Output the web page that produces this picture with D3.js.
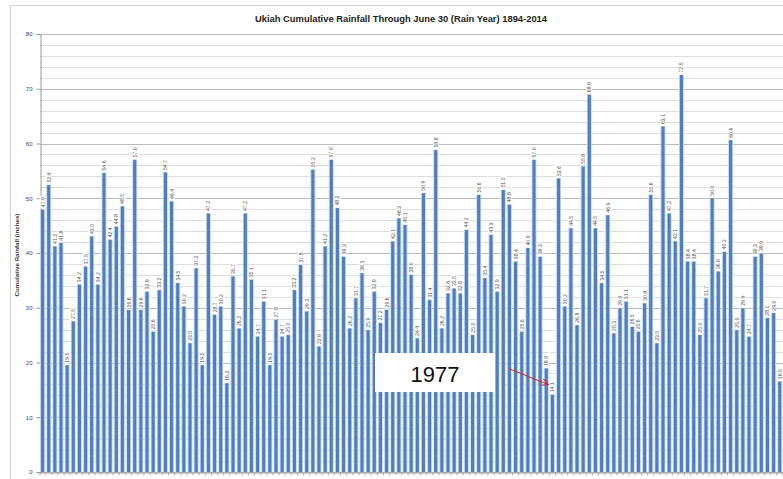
<!DOCTYPE html>
<html>
<head>
<meta charset="utf-8">
<script src="https://cdn.jsdelivr.net/npm/d3@7"></script>
<style>
  html, body { margin: 0; padding: 0; background: #fff; }
  svg { display: block; }
</style>
</head>
<body>
<svg id="chart" width="783" height="479"></svg>
<script>
// ---------- data ----------
const title = "Ukiah Cumulative Rainfall Through June 30 (Rain Year) 1894-2014";
const yAxisTitle = "Cumulative Rainfall (inches)";
const firstYear = 1894;
const lastYear = 2014;
const years = d3.range(firstYear, lastYear + 1);
const rainfall = [
  47.9,52.4,41.2,41.8,19.5,27.5,34.2,37.5,43.0,34.2,
  54.6,42.4,44.8,48.5,29.6,57.0,29.6,32.9,25.6,33.2,
  54.7,49.4,34.5,30.2,23.5,37.2,19.5,47.2,28.7,30.2,
  16.2,35.7,26.2,47.2,35.1,24.7,31.1,19.5,27.8,24.7,
  25.0,33.2,37.8,29.3,55.2,22.9,41.2,57.0,48.2,39.3,
  26.2,31.7,36.3,25.9,32.9,27.2,29.6,42.1,46.3,45.1,
  36.0,24.4,50.9,31.4,58.8,26.2,32.6,33.5,32.6,44.2,
  25.0,50.6,35.4,43.3,32.9,51.5,48.8,38.4,25.6,40.9,
  57.0,39.3,18.9,14.1,53.6,30.2,44.5,26.8,55.8,68.9,
  44.5,34.5,46.9,25.3,29.9,31.1,26.5,25.6,30.8,50.6,
  23.5,63.1,47.2,42.1,72.5,38.4,38.4,25.0,31.7,50.0,
  36.6,40.2,60.6,25.9,29.9,24.7,39.3,39.9,28.1,29.0,16.5
];
const yTicks = [0, 10, 20, 30, 40, 50, 60, 70, 80];
const minorTicks = d3.range(0, 81, 2);
const annotationText = "1977";
const annotationYear = 1977;

// ---------- drawing ----------
const svg = d3.select("#chart");
const W = 783, H = 479;

// chart frame
svg.append("rect").attr("x", 10.5).attr("y", 5.5).attr("width", W).attr("height", H)
  .attr("fill", "#fff").attr("stroke", "#d4d4d4");

const x = d3.scaleBand().domain(years).range([39.5, 782.8]).paddingInner(0.5).paddingOuter(0.25);
const y = d3.scaleLinear().domain([0, 80]).range([472, 34]);

// gridlines
svg.append("g").selectAll("line").data(minorTicks).join("line")
  .attr("x1", 40).attr("x2", W)
  .attr("y1", d => Math.round(y(d)) + 0.5).attr("y2", d => Math.round(y(d)) + 0.5)
  .attr("stroke", d => d % 10 === 0 ? "#bdbdbd" : "#dedede").attr("stroke-width", 1);

// title
svg.append("text").attr("x", 401).attr("y", 22).attr("text-anchor", "middle")
  .attr("font-family", "Liberation Sans, Arial, sans-serif").attr("font-weight", "bold")
  .attr("font-size", 9.4).attr("fill", "#222").text(title);

// y axis
const yAxis = d3.axisLeft(y).tickValues(yTicks).tickSize(4).tickPadding(4).tickFormat(d3.format("d"));
const gy = svg.append("g").attr("transform", "translate(40.5,0)").call(yAxis);
gy.select(".domain").attr("stroke", "#9a9a9a");
gy.selectAll(".tick line").attr("stroke", "#9a9a9a");
gy.selectAll(".tick text").attr("font-family", "Liberation Sans, Arial, sans-serif")
  .attr("font-size", 6).attr("fill", "#444");

svg.append("text").attr("transform", "translate(19,255) rotate(-90)")
  .attr("text-anchor", "middle").attr("font-family", "Liberation Sans, Arial, sans-serif")
  .attr("font-size", 6.2).attr("font-weight", "bold").attr("fill", "#333").text(yAxisTitle);

// x axis
const xAxis = d3.axisBottom(x).tickSize(3).tickFormat("");
const gx = svg.append("g").attr("transform", "translate(0,472.5)").call(xAxis);
gx.select(".domain").attr("stroke", "#9a9a9a");
gx.selectAll(".tick line").attr("stroke", "#b0b0b0")
  .attr("transform", `translate(${x.step() / 2},0)`);

// bars
const data = years.map((yr, i) => ({ year: yr, value: rainfall[i] }));
const bars = svg.append("g");
bars.selectAll("rect.halo").data(data).join("rect").attr("class", "halo")
  .attr("x", d => x(d.year) - 0.9).attr("width", x.bandwidth() + 1.8)
  .attr("y", d => y(d.value) - 0.5).attr("height", d => y(0) - y(d.value) + 0.5)
  .attr("fill", "#c3d5ef");
bars.selectAll("rect.bar").data(data).join("rect").attr("class", "bar")
  .attr("x", d => x(d.year)).attr("width", x.bandwidth())
  .attr("y", d => y(d.value)).attr("height", d => y(0) - y(d.value))
  .attr("fill", "#4f7fc1");

// data labels
const labels = svg.append("g");
labels.selectAll("rect").data(data).join("rect")
  .attr("x", d => x(d.year) + x.bandwidth() / 2 - 3)
  .attr("y", d => y(d.value) - 14).attr("width", 6).attr("height", 12.5)
  .attr("fill", "#fff");
labels.selectAll("text").data(data).join("text")
  .attr("transform", d => `translate(${x(d.year) + x.bandwidth() / 2 + 2},${y(d.value) - 2.5}) rotate(-90)`)
  .attr("font-family", "Liberation Sans, Arial, sans-serif").attr("font-size", 5.2)
  .attr("fill", "#555").text(d => d3.format(".1f")(d.value));

// annotation
const ann = svg.append("g");
ann.append("rect").attr("x", 375).attr("y", 353).attr("width", 120).attr("height", 39).attr("fill", "#fff");
ann.append("text").attr("x", 435).attr("y", 382).attr("text-anchor", "middle")
  .attr("font-family", "Liberation Sans, Arial, sans-serif").attr("font-size", 22)
  .attr("fill", "#111").text(annotationText);

svg.append("defs").append("marker").attr("id", "arrow").attr("viewBox", "0 0 10 10")
  .attr("refX", 9).attr("refY", 5).attr("markerWidth", 7).attr("markerHeight", 7)
  .attr("orient", "auto")
  .append("path").attr("d", "M0,0 L10,5 L0,10").attr("fill", "none").attr("stroke", "#e02020").attr("stroke-width", 1.4);
const ax = x(annotationYear) - 3;
svg.append("line").attr("x1", 510).attr("y1", 369).attr("x2", ax).attr("y2", 384.5)
  .attr("stroke", "#e02020").attr("stroke-width", 1).attr("marker-end", "url(#arrow)");
</script>
</body>
</html>
